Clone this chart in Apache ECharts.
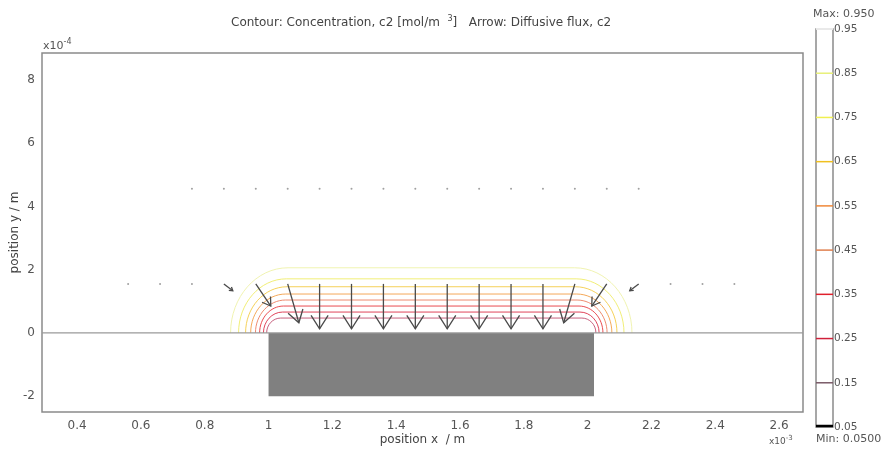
<!DOCTYPE html>
<html>
<head>
<meta charset="utf-8">
<title>Contour: Concentration, c2</title>
<script src="https://cdn.jsdelivr.net/npm/echarts@6/dist/echarts.min.js"></script>
<style>
  html, body { margin: 0; padding: 0; background: #fff; }
  #chart { width: 888px; height: 450px; }
</style>
</head>
<body>
<div id="chart"></div>
<script>
// x in 1e-3 m, y in 1e-4 m
const xRange = [0.29, 2.675];
const yRange = [-2.5, 8.85];
const xTicks = [0.4, 0.6, 0.8, 1, 1.2, 1.4, 1.6, 1.8, 2, 2.2, 2.4, 2.6];
const yTicks = [-2, 0, 2, 4, 6, 8];

// electrode block
const electrodeX = [1.0, 2.02];
const electrodeY = [-2, 0];

// contour lines
const levels = [0.15, 0.25, 0.35, 0.45, 0.55, 0.65, 0.75, 0.85];
const levelColors = ['#c05070', '#dc3048', '#e8383e', '#ec8060', '#f3a048', '#f4cc48', '#f0ec68', '#eef2a8'];
const levelHeight = [0.47, 0.66, 0.85, 1.04, 1.23, 1.46, 1.71, 2.06];   // above the surface
const levelFoot = [0.006, 0.016, 0.028, 0.041, 0.056, 0.072, 0.094, 0.119]; // past the block edge
const levelBend = [0.044, 0.06, 0.075, 0.094, 0.11, 0.13, 0.15, 0.18];   // width of the rounded end

// colour bar
const barTicks = [0.05, 0.15, 0.25, 0.35, 0.45, 0.55, 0.65, 0.75, 0.85, 0.95];
const barColors = ['#000000', '#7a5a68', '#d0203a', '#e0202c', '#e08050', '#f08838', '#f0c020', '#f0f050', '#e8f078', '#ffffff'];

// arrows: diffusive flux (tail position, vector)
const row1X = [0.76, 0.86, 0.96, 1.06, 1.16, 1.26, 1.36, 1.46, 1.56, 1.66, 1.76, 1.86, 1.96, 2.06, 2.16];
const row1Y = 4.56;
const row1U = [0, 0, 0, 0, 0, 0, 0, 0, 0, 0, 0, 0, 0, 0, 0];
const row1V = [-0.03, -0.03, -0.03, -0.03, -0.03, -0.03, -0.03, -0.03, -0.03, -0.03, -0.03, -0.03, -0.03, -0.03, -0.03];

const row2X = [0.56, 0.66, 0.76, 0.86, 0.96, 1.06, 1.16, 1.26, 1.36, 1.46, 1.56, 1.66, 1.76, 1.86, 1.96, 2.06, 2.16, 2.26, 2.36, 2.46];
const row2Y = 1.55;
const row2U = [0.002, 0.003, 0.006, 0.028, 0.047, 0.035, 0, 0, 0, 0, 0, 0, 0, 0, -0.035, -0.047, -0.028, -0.006, -0.003, -0.002];
const row2V = [-0.02, -0.03, -0.06, -0.22, -0.70, -1.23, -1.42, -1.42, -1.42, -1.42, -1.42, -1.42, -1.42, -1.42, -1.23, -0.70, -0.22, -0.06, -0.03, -0.02];

const font = 'DejaVu Sans, Verdana, sans-serif';
const textColor = '#555';

const arrowData = row1X.map((x, i) => [x, row1Y, row1U[i], row1V[i]])
  .concat(row2X.map((x, i) => [x, row2Y, row2U[i], row2V[i]]));

function renderContour(params, api) {
  const h = api.value(1), foot = api.value(2), bend = api.value(3);
  const color = levelColors[params.dataIndex];
  const k = 0.5523;
  const x0 = electrodeX[0] - foot;
  const x1 = electrodeX[1] + foot;
  const a0 = api.coord([x0, 0]);
  const a1 = api.coord([x0, k * h]);
  const a2 = api.coord([x0 + bend * (1 - k), h]);
  const a3 = api.coord([x0 + bend, h]);
  const b0 = api.coord([x1 - bend, h]);
  const b1 = api.coord([x1 - bend * (1 - k), h]);
  const b2 = api.coord([x1, k * h]);
  const b3 = api.coord([x1, 0]);
  const style = { stroke: color, lineWidth: 1, fill: null, opacity: 0.9 };
  return {
    type: 'group',
    children: [
      { type: 'bezierCurve', shape: { x1: a0[0], y1: a0[1], cpx1: a1[0], cpy1: a1[1], cpx2: a2[0], cpy2: a2[1], x2: a3[0], y2: a3[1] }, style: style },
      { type: 'line', shape: { x1: a3[0], y1: a3[1], x2: b0[0], y2: b0[1] }, style: style },
      { type: 'bezierCurve', shape: { x1: b0[0], y1: b0[1], cpx1: b1[0], cpy1: b1[1], cpx2: b2[0], cpy2: b2[1], x2: b3[0], y2: b3[1] }, style: style }
    ]
  };
}

function renderBlock(params, api) {
  const p0 = api.coord([api.value(0), api.value(3)]);
  const p1 = api.coord([api.value(1), api.value(2)]);
  return {
    type: 'rect',
    shape: { x: p0[0], y: p0[1], width: p1[0] - p0[0], height: p1[1] - p0[1] },
    style: { fill: '#808080' }
  };
}

function renderArrow(params, api) {
  const tail = api.coord([api.value(0), api.value(1)]);
  const tip = api.coord([api.value(0) + api.value(2), api.value(1) + api.value(3)]);
  const dx = tip[0] - tail[0], dy = tip[1] - tail[1];
  const len = Math.sqrt(dx * dx + dy * dy);
  if (len < 4) {
    return { type: 'circle', shape: { cx: tail[0], cy: tail[1], r: 1 }, style: { fill: '#a0a0a0' } };
  }
  const ux = dx / len, uy = dy / len;
  const hl = len * 0.3, hw = len * 0.19;
  const bx = tip[0] - ux * hl, by = tip[1] - uy * hl;
  const st = { stroke: '#4a4a4a', lineWidth: 1.3, fill: null };
  return {
    type: 'group',
    children: [
      { type: 'line', shape: { x1: tail[0], y1: tail[1], x2: tip[0], y2: tip[1] }, style: st },
      { type: 'polyline', shape: { points: [[bx - uy * hw, by + ux * hw], tip, [bx + uy * hw, by - ux * hw]] }, style: st }
    ]
  };
}

function renderBarTick(params, api) {
  const a = api.coord([0, api.value(0)]);
  const b = api.coord([1, api.value(0)]);
  const isMin = params.dataIndex === 0;
  return {
    type: 'line',
    shape: { x1: a[0], y1: a[1] - (isMin ? 1 : 0), x2: b[0], y2: b[1] - (isMin ? 1 : 0) },
    style: { stroke: barColors[params.dataIndex], lineWidth: isMin ? 2.5 : 1.5 }
  };
}

const chart = echarts.init(document.getElementById('chart'), null, { renderer: 'canvas' });

const option = {
  animation: false,
  backgroundColor: '#fff',
  title: {
    text: 'Contour: Concentration, c2 [mol/m  {sup|3}]   Arrow: Diffusive flux, c2',
    left: 226,
    top: 10,
    textStyle: {
      fontFamily: font, fontSize: 12, fontWeight: 'normal', color: '#444',
      rich: { sup: { fontFamily: font, fontSize: 8, color: '#444', verticalAlign: 'top', padding: [0, 0, 7, 0] } }
    }
  },
  graphic: [
    {
      type: 'text', left: 43, top: 38,
      style: { text: 'x10{s|-4}', fontFamily: font, fontSize: 11, fill: textColor,
        rich: { s: { fontFamily: font, fontSize: 8, fill: textColor, padding: [0, 0, 9, 0] } } }
    },
    {
      type: 'text', left: 769, top: 435,
      style: { text: 'x10{s|-3}', fontFamily: font, fontSize: 9, fill: textColor,
        rich: { s: { fontFamily: font, fontSize: 7, fill: textColor, padding: [0, 0, 7, 0] } } }
    },
    {
      type: 'text', left: 813, top: 9,
      style: { text: 'Max: 0.950', fontFamily: font, fontSize: 11, fill: textColor }
    },
    {
      type: 'text', left: 816, top: 434,
      style: { text: 'Min: 0.0500', fontFamily: font, fontSize: 11, fill: textColor }
    }
  ],
  grid: [
    { left: 42, top: 53, right: 85, bottom: 38, show: true, borderColor: '#8a8a8a', borderWidth: 1.5, outerBoundsMode: 'none' },
    { left: 816, top: 29, width: 17, bottom: 23, show: true, borderColor: '#8a8a8a', borderWidth: 1.5, outerBoundsMode: 'none' }
  ],
  xAxis: [
    {
      gridIndex: 0, type: 'value', min: xRange[0], max: xRange[1],
      axisLine: { show: false }, axisTick: { show: false }, splitLine: { show: false },
      axisLabel: { customValues: xTicks, margin: 8, fontFamily: font, fontSize: 12, color: textColor },
      name: 'position x  / m', nameLocation: 'middle', nameGap: 22, nameMoveOverlap: false,
      nameTextStyle: { fontFamily: font, fontSize: 12, color: '#444' }
    },
    { gridIndex: 1, type: 'value', min: 0, max: 1, show: false }
  ],
  yAxis: [
    {
      gridIndex: 0, type: 'value', min: yRange[0], max: yRange[1],
      axisLine: { show: false }, axisTick: { show: false }, splitLine: { show: false },
      axisLabel: { customValues: yTicks, margin: 7, fontFamily: font, fontSize: 12, color: textColor },
      name: 'position y / m', nameLocation: 'middle', nameGap: 21, nameMoveOverlap: false,
      nameTextStyle: { fontFamily: font, fontSize: 12, color: '#444' }
    },
    {
      gridIndex: 1, type: 'value', min: 0.05, max: 0.95, position: 'right',
      axisLine: { show: false }, axisTick: { show: false }, splitLine: { show: false },
      axisLabel: { customValues: barTicks, margin: 1, fontFamily: font, fontSize: 10.5, color: textColor,
        formatter: v => v.toFixed(2) }
    }
  ],
  series: [
    {
      name: 'boundary', type: 'line', xAxisIndex: 0, yAxisIndex: 0,
      data: [[xRange[0], electrodeY[1]], [xRange[1], electrodeY[1]]],
      symbol: 'none', silent: true,
      lineStyle: { color: '#9a9a9a', width: 1.2 }
    },
    {
      name: 'contour', type: 'custom', xAxisIndex: 0, yAxisIndex: 0,
      renderItem: renderContour,
      encode: { x: 2, y: 1 },
      data: levels.map((lv, i) => [lv, levelHeight[i], levelFoot[i], levelBend[i]]),
      silent: true
    },
    {
      name: 'block', type: 'custom', xAxisIndex: 0, yAxisIndex: 0,
      renderItem: renderBlock,
      encode: { x: [0, 1], y: [2, 3] },
      data: [[electrodeX[0], electrodeX[1], electrodeY[0], electrodeY[1]]],
      silent: true
    },
    {
      name: 'flux', type: 'custom', xAxisIndex: 0, yAxisIndex: 0,
      renderItem: renderArrow,
      encode: { x: 0, y: 1 },
      data: arrowData,
      silent: true
    },
    {
      name: 'colorbar', type: 'custom', xAxisIndex: 1, yAxisIndex: 1,
      renderItem: renderBarTick,
      encode: { y: 0 },
      data: barTicks.map(v => [v]),
      silent: true
    }
  ]
};

chart.setOption(option);
</script>
</body>
</html>
